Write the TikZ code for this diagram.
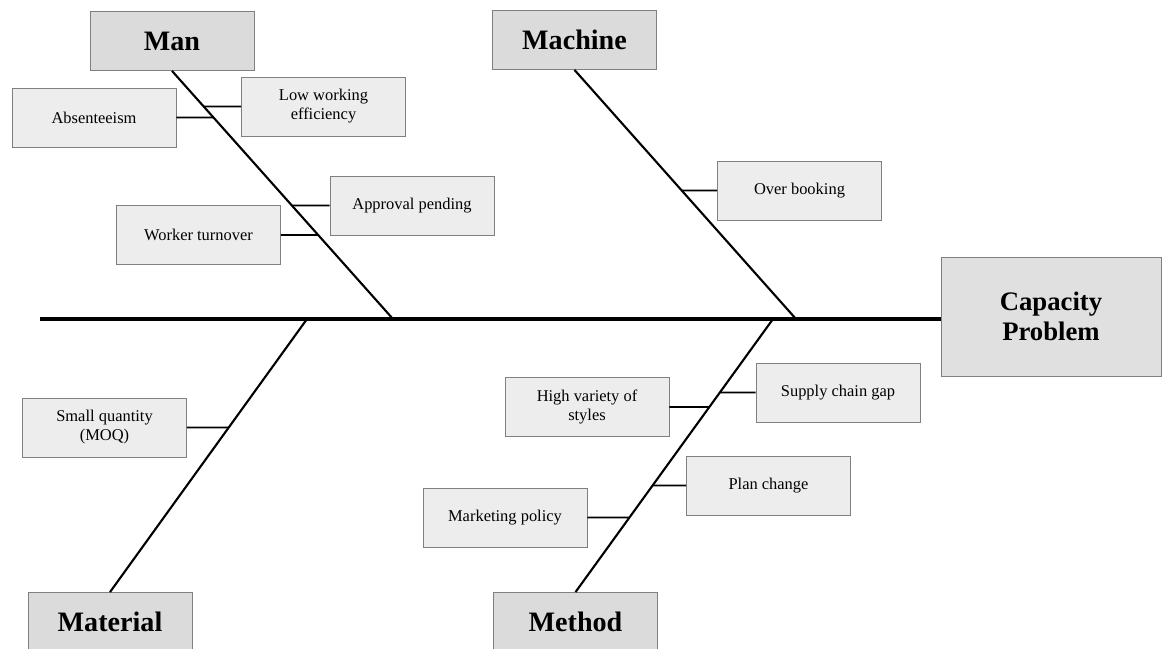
\documentclass[tikz,border=0pt]{standalone}
\usepackage{fontspec}
\setmainfont{Liberation Serif}
\usetikzlibrary{intersections}
\newcommand{\twig}[3]{%
  \path[name path=twigpath] (#1) -- ++(#3,0);
  \draw[twigline, name intersections={of=#2 and twigpath, by=tx}] (#1) -- (tx);}
\begin{document}
\begin{tikzpicture}[x=0.025cm,y=-0.025cm,
  cause/.style={draw=black!50, fill=black!7, line width=0.6pt,
    minimum width=4.1cm, minimum height=1.475cm, inner sep=2pt,
    align=center, font=\fontsize{11.7}{13.5}\selectfont},
  category/.style={cause, fill=black!14, font=\bfseries\fontsize{20}{24}\selectfont},
  effect/.style={cause, fill=black!12, minimum width=5.5cm, minimum height=2.975cm,
    font=\bfseries\fontsize{19}{21}\selectfont},
  mainline/.style={line width=2.2pt},
  spine/.style={line width=1.5pt},
  twigline/.style={line width=1.1pt}]
\useasboundingbox (0,0) rectangle (1170,649);
% categories and effect
\node[category] (man) at (172,41) {Man};
\node[category] (machine) at (574.5,40) {Machine};
\node[category] (material) at (110,622) {Material};
\node[category] (method) at (575.5,622) {Method};
\node[effect] (cap) at (1051,316.5) {Capacity\\Problem};
% causes
\node[cause] (abs) at (94,117.5) {Absenteeism};
\node[cause] (low) at (323.5,106.5) {Low working\\efficiency};
\node[cause] (appr) at (412,205.5) {Approval pending};
\node[cause] (work) at (198.5,235) {Worker turnover};
\node[cause] (over) at (799.5,190.5) {Over booking};
\node[cause] (small) at (104.5,427.5) {Small quantity\\(MOQ)};
\node[cause] (high) at (587,407) {High variety of\\styles};
\node[cause] (supply) at (838,392.5) {Supply chain gap};
\node[cause] (plan) at (768.5,485.5) {Plan change};
\node[cause] (mkt) at (505,517.5) {Marketing policy};
% main line
\coordinate (tail) at (40,319);
\draw[mainline] (tail) -- (tail -| cap.west);
\coordinate (j1) at (393,319);
\coordinate (j2) at (796,319);
\coordinate (j3) at (307,319);
\coordinate (j4) at (773,319);
% spines
\draw[spine, name path=sMan] (man.south) -- (j1);
\draw[spine, name path=sMachine] (machine.south) -- (j2);
\draw[spine, name path=sMaterial] (material.north) -- (j3);
\draw[spine, name path=sMethod] (method.north) -- (j4);
% twigs
\twig{abs.east}{sMan}{200}
\twig{low.west}{sMan}{-200}
\twig{appr.west}{sMan}{-200}
\twig{work.east}{sMan}{200}
\twig{over.west}{sMachine}{-200}
\twig{small.east}{sMaterial}{200}
\twig{high.east}{sMethod}{200}
\twig{supply.west}{sMethod}{-200}
\twig{plan.west}{sMethod}{-200}
\twig{mkt.east}{sMethod}{200}
\end{tikzpicture}
\end{document}
